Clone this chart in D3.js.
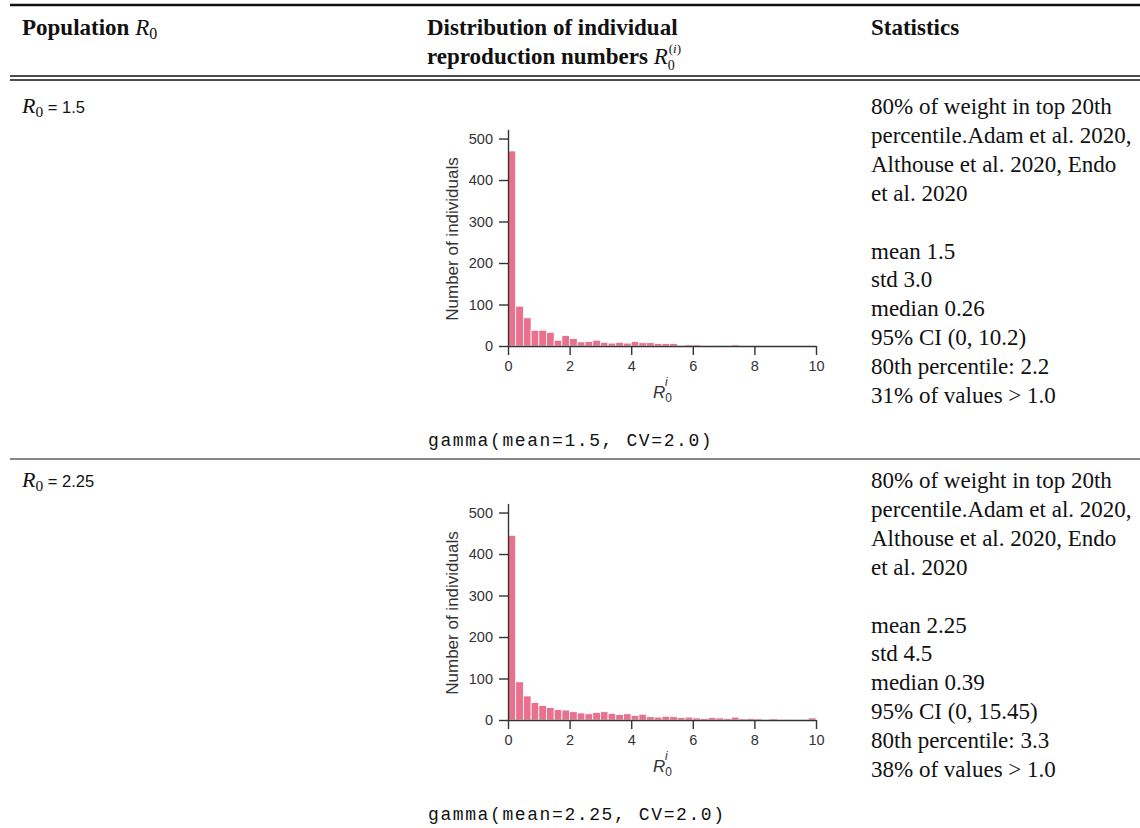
<!DOCTYPE html>
<html>
<head>
<meta charset="utf-8">
<script src="https://cdn.jsdelivr.net/npm/d3@7"></script>
<style>
  body { margin: 0; background: #fff; }
  svg text { fill: #111; }
  .serif { font-family: "Liberation Serif", "DejaVu Serif", serif; font-size: 23px; }
  .bold { font-weight: bold; }
  .mono { font-family: "Liberation Mono", "DejaVu Sans Mono", monospace; font-size: 18px; letter-spacing: 1.6px; }
  .axis path, .axis line { stroke: #333; stroke-width: 1.4px; }
  .axis text { font-family: "Liberation Sans", Arial, sans-serif; font-size: 14.5px; fill: #333; }
  .lab { font-family: "Liberation Sans", Arial, sans-serif; font-size: 17px; fill: #333; }
</style>
</head>
<body>
<script>
// table content
var headers = ["Population", "Distribution of individual", "reproduction numbers", "Statistics"];
var populationR0 = ["1.5", "2.25"];
var distLabels = ["gamma(mean=1.5, CV=2.0)", "gamma(mean=2.25, CV=2.0)"];
var citeLines = ["80% of weight in top 20th", "percentile.Adam et al. 2020,", "Althouse et al. 2020, Endo", "et al. 2020"];
var stats15 = ["mean 1.5", "std 3.0", "median 0.26", "95% CI (0, 10.2)", "80th percentile: 2.2", "31% of values > 1.0"];
var stats225 = ["mean 2.25", "std 4.5", "median 0.39", "95% CI (0, 15.45)", "80th percentile: 3.3", "38% of values > 1.0"];

// histogram counts, bins of width 0.25 on [0, 10]
var binWidth = 0.25;
var counts15 = [470, 96, 68, 38, 38, 33, 14, 25, 18, 10, 11, 14, 9, 7, 9, 7, 11, 8, 8, 6,
                6, 6, 0, 3, 3, 0, 0, 2, 0, 3, 0, 0, 0, 0, 0, 0, 0, 0, 0, 0];
var counts225 = [445, 92, 58, 42, 35, 30, 25, 24, 20, 17, 15, 18, 20, 16, 13, 15, 11, 14, 8, 7,
                 9, 8, 6, 7, 5, 4, 6, 5, 4, 7, 3, 4, 3, 2, 3, 2, 2, 1, 2, 5];
var xTicks = [0, 2, 4, 6, 8, 10];
var yTicks = [0, 100, 200, 300, 400, 500];

const WIDTH = 1140;
const HEIGHT = 828;
const COL1 = 22, COL2 = 427, COL3 = 871;
const ROW_STEP = 374;
const LINE_H = 28.9;

var svg = d3.select('body').append('svg')
  .attr('width', WIDTH).attr('height', HEIGHT);

var rule = function(y, w){
  svg.append('line')
    .attr('x1', 10).attr('x2', WIDTH).attr('y1', y).attr('y2', y)
    .attr('stroke', '#111').attr('stroke-width', w);
};

// R_0 in math style, returns the text node so more can be appended
var mathR0 = function(g, x, y, size){
  var t = g.append('text').attr('x', x).attr('y', y).attr('class', 'serif');
  t.append('tspan').attr('font-style', 'italic').attr('font-size', size).text('R');
  t.append('tspan').attr('font-size', size * 0.7).attr('dy', 4).text('0');
  return t;
};

// header
rule(5, 2.4);
svg.append('text').attr('class', 'serif bold').attr('x', COL1).attr('y', 35).text(headers[0] + ' ')
  .append('tspan').attr('font-style', 'italic').attr('font-weight', 'normal').text('R')
  .clone(true).attr('font-style', 'normal').attr('font-size', 16).attr('dy', 4).text('0');
svg.append('text').attr('class', 'serif bold').attr('x', COL2).attr('y', 35).text(headers[1]);
var h2 = svg.append('text').attr('class', 'serif bold').attr('x', COL2).attr('y', 64).text(headers[2] + ' ');
h2.append('tspan').attr('font-style', 'italic').attr('font-weight', 'normal').text('R');
// superscript (i) and subscript 0 as separate texts so they stack
var h2w = h2.node().getComputedTextLength();
var sup = svg.append('text').attr('class', 'serif').attr('x', COL2 + h2w + 1).attr('y', 53).style('font-size', '13px');
sup.append('tspan').text('(');
sup.append('tspan').attr('font-style', 'italic').text('i');
sup.append('tspan').text(')');
svg.append('text').attr('class', 'serif').attr('x', COL2 + h2w).attr('y', 70).style('font-size', '14px').text('0');
svg.append('text').attr('class', 'serif bold').attr('x', COL3).attr('y', 35).text(headers[3]);
rule(76, 1.3);
rule(80, 1.3);

var x = d3.scaleLinear().domain([0, 10]).range([508, 816]);

var drawRow = function(i, counts, stats){
  var off = i * ROW_STEP;
  var g = svg.append('g').attr('transform', 'translate(0,' + off + ')');

  var t = mathR0(g, COL1, 113, 22);
  t.append('tspan').attr('dy', -4)
    .attr('font-family', '"Liberation Sans", Arial, sans-serif').attr('font-size', 16.5)
    .text(' = ' + populationR0[i]);

  var lines = citeLines.concat(['']).concat(stats);
  g.selectAll('text.stat').data(lines).enter().append('text')
    .attr('class', 'serif stat')
    .attr('x', COL3)
    .attr('y', function(d, k){ return 114 + k * LINE_H; })
    .text(function(d){ return d; });

  g.append('text').attr('class', 'mono').attr('x', COL2 + 1).attr('y', 446).text(distLabels[i]);

  var y = d3.scaleLinear().domain([0, 522]).range([346, 129.4]);
  var bins = counts.map(function(c, k){ return {x0: k * binWidth, x1: (k + 1) * binWidth, n: c}; });

  g.append('g').selectAll('rect').data(bins.filter(function(d){ return d.n > 0; })).enter()
    .append('rect')
    .attr('x', function(d){ return x(d.x0); })
    .attr('width', function(d){ return x(d.x1) - x(d.x0); })
    .attr('y', function(d){ return y(d.n); })
    .attr('height', function(d){ return y(0) - y(d.n); })
    .attr('fill', '#e9718d')
    .attr('stroke', '#fff')
    .attr('stroke-width', 0.8);

  g.append('g').attr('class', 'axis')
    .attr('transform', 'translate(0,346)')
    .call(d3.axisBottom(x).tickValues(xTicks).tickSize(9).tickPadding(6).tickSizeOuter(0));

  g.append('g').attr('class', 'axis')
    .attr('transform', 'translate(508,0)')
    .call(d3.axisLeft(y).tickValues(yTicks).tickSize(9).tickPadding(6).tickSizeOuter(0));

  g.append('text').attr('class', 'lab')
    .attr('transform', 'translate(458,239) rotate(-90)')
    .attr('text-anchor', 'middle')
    .text('Number of individuals');

  var xl = g.append('text').attr('class', 'lab').attr('x', 653).attr('y', 398);
  xl.append('tspan').attr('font-style', 'italic').attr('font-size', 17).text('R');
  xl.append('tspan').attr('font-size', 12).attr('dy', 4).text('0');
  xl.append('tspan').attr('font-style', 'italic').attr('font-size', 12).attr('dx', -7).attr('dy', -16).text('i');

  if (i === 0) rule(459, 1.2);
};

drawRow(0, counts15, stats15);
drawRow(1, counts225, stats225);
</script>
</body>
</html>
